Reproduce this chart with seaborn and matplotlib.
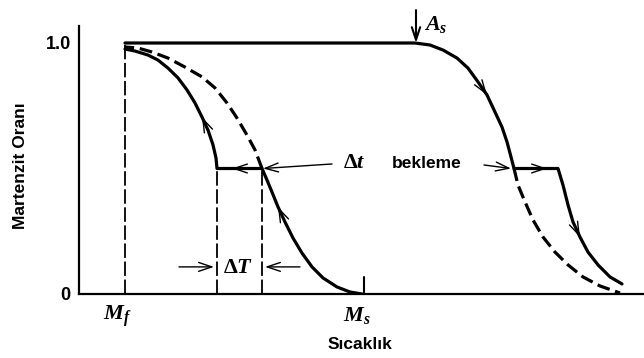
import matplotlib
matplotlib.use("Agg")
import matplotlib.pyplot as plt
import pandas as pd
import seaborn as sns

# Characteristic temperatures (arbitrary temperature units along the axis)
T_MF = 46
T_MS = 284
T_AS = 336
HOLD_LEVEL = 0.5
DT_LEFT = 138
DT_RIGHT = 183

# Cooling: from Ms up to the isothermal hold
cool_lower_T = [283, 271, 258, 244, 233, 223, 214, 206, 199, 193, 188, 183]
cool_lower_f = [0.0, 0.008, 0.028, 0.064, 0.108, 0.163, 0.223, 0.287, 0.347, 0.406, 0.454, 0.50]
# Cooling: continuation after the hold, towards Mf
cool_upper_T = [138, 137, 134, 129, 123, 116, 108, 99, 89, 79, 69, 56, 46]
cool_upper_f = [0.50, 0.542, 0.594, 0.653, 0.705, 0.761, 0.813, 0.861, 0.900, 0.932, 0.952, 0.968, 0.976]
# Cooling without interruption (dashed)
cool_ref_T = [183, 176, 168, 158, 148, 136, 123, 106, 89, 73, 59, 46]
cool_ref_f = [0.50, 0.574, 0.633, 0.701, 0.761, 0.821, 0.865, 0.904, 0.940, 0.964, 0.980, 0.984]

# Heating: fully martensitic plateau up to As, then reversion to the hold
heat_upper_T = [46, 336, 351, 364, 378, 389, 399, 408, 416, 423, 428, 432, 435]
heat_upper_f = [1.0, 1.0, 0.992, 0.972, 0.940, 0.900, 0.845, 0.793, 0.725, 0.665, 0.606, 0.546, 0.50]
# Heating: continuation after the hold
heat_lower_T = [479, 484, 489, 494, 501, 509, 519, 531, 543]
heat_lower_f = [0.50, 0.434, 0.355, 0.287, 0.227, 0.167, 0.116, 0.068, 0.040]
# Heating without interruption (dashed)
heat_ref_T = [435, 439, 446, 454, 464, 476, 489, 504, 521, 541]
heat_ref_f = [0.50, 0.434, 0.367, 0.295, 0.227, 0.167, 0.116, 0.068, 0.032, 0.004]

HEAT_HOLD_END = 479

sns.set_style("white")
plt.rcParams["font.family"] = ["Liberation Sans", "DejaVu Sans"]
plt.rcParams["font.weight"] = "bold"
plt.rcParams["text.color"] = "black"
plt.rcParams["axes.labelcolor"] = "black"
plt.rcParams["ytick.color"] = "black"
plt.rcParams["mathtext.fontset"] = "custom"
plt.rcParams["mathtext.it"] = "Liberation Serif:italic:bold"
plt.rcParams["mathtext.rm"] = "Liberation Serif:bold"
plt.rcParams["mathtext.bf"] = "Liberation Serif:bold"

cool_path = pd.DataFrame({
    "T": cool_lower_T + [DT_LEFT] + cool_upper_T,
    "f": cool_lower_f + [HOLD_LEVEL] + cool_upper_f,
})
heat_path = pd.DataFrame({
    "T": heat_upper_T + [HEAT_HOLD_END] + heat_lower_T,
    "f": heat_upper_f + [HOLD_LEVEL] + heat_lower_f,
})
cool_ref = pd.DataFrame({"T": cool_ref_T, "f": cool_ref_f})
heat_ref = pd.DataFrame({"T": heat_ref_T, "f": heat_ref_f})

fig = plt.figure(figsize=(6.44, 3.58), dpi=100)
ax = fig.add_axes([79 / 644, 1 - 294 / 358, 565 / 644, 268 / 358])
ax.set_xlim(0, 565)
ax.set_ylim(0, 268 / 251)

solid = dict(color="black", lw=2.3, sort=False, estimator=None, legend=False)
sns.lineplot(data=cool_path, x="T", y="f", ax=ax, **solid)
sns.lineplot(data=heat_path, x="T", y="f", ax=ax, **solid)
sns.lineplot(data=cool_ref, x="T", y="f", ax=ax, **solid).lines[-1].set_dashes([4, 1.8])
sns.lineplot(data=heat_ref, x="T", y="f", ax=ax, **solid).lines[-1].set_dashes([4, 1.8])

# Guide lines at Mf and around the hold
guide = dict(color="black", lw=1.3, dashes=[8, 2])
ax.plot([T_MF, T_MF], [0, 1.0], **guide)
ax.plot([DT_LEFT, DT_LEFT], [0, HOLD_LEVEL], **guide)
ax.plot([DT_RIGHT, DT_RIGHT], [0, HOLD_LEVEL], **guide)
# Ms marker
ax.plot([T_MS + 1, T_MS + 1], [0, 0.068], color="black", lw=1.5)


def chevron(tip, tail, lw=1.0, hl=0.95, hw=0.32):
    ax.annotate("", xy=tip, xytext=tail, annotation_clip=False,
                arrowprops=dict(arrowstyle=f"->,head_length={hl},head_width={hw}",
                                lw=lw, color="black", shrinkA=0, shrinkB=0,
                                mutation_scale=10))


# Direction markers along the paths
chevron((cool_upper_T[4], cool_upper_f[4]), (cool_upper_T[3], cool_upper_f[3]))
chevron((cool_lower_T[8], cool_lower_f[8]), (cool_lower_T[7], cool_lower_f[7]))
chevron((heat_upper_T[7], heat_upper_f[7]), (heat_upper_T[6], heat_upper_f[6]))
chevron((heat_lower_T[4], heat_lower_f[4]), (heat_lower_T[3], heat_lower_f[3]))
chevron((153, HOLD_LEVEL), (170, HOLD_LEVEL))
chevron((468, HOLD_LEVEL), (450, HOLD_LEVEL))

# Annotations
chevron((DT_RIGHT + 1, HOLD_LEVEL), (253, 0.518))
chevron((432, HOLD_LEVEL), (405, 0.514))
chevron((DT_LEFT - 3, 0.108), (100, 0.108))
chevron((DT_RIGHT + 3, 0.108), (221, 0.108))
chevron((T_AS + 1, 1.0), (T_AS + 1, 1.131), lw=1.5, hl=0.9, hw=0.3)

math_kw = dict(fontsize=16, ha="center", va="center")
ax.text(275, 0.522, r"$\Delta t$", **math_kw)
ax.text(159, 0.104, r"$\Delta T$", **math_kw)
ax.text(357, 1.072, r"$A_s$", **math_kw)
ax.text(38, -0.09, r"$M_f$", clip_on=False, **math_kw)
ax.text(278, -0.085, r"$M_s$", clip_on=False, **math_kw)
ax.text(348, 0.518, "bekleme", fontsize=12.5, fontweight="bold", ha="center", va="center")

ax.set_xticks([])
ax.set_yticks([0, 1.0])
ax.set_yticklabels(["0", "1.0"])
ax.tick_params(axis="y", direction="in", length=16, width=1.5, pad=6,
               labelsize=13, color="black", labelcolor="black")

ax.set_xlabel("Sıcaklık", fontsize=12.5, fontweight="bold", va="center")
ax.xaxis.set_label_coords(0.497, -0.19)
ax.set_ylabel("Martenzit Oranı", fontsize=12.5, fontweight="bold", va="center")
ax.yaxis.set_label_coords(-0.103, 0.478)

sns.despine(ax=ax)
for side in ("left", "bottom"):
    ax.spines[side].set_linewidth(1.6)
    ax.spines[side].set_color("black")

fig.savefig("out.png", dpi=100)
